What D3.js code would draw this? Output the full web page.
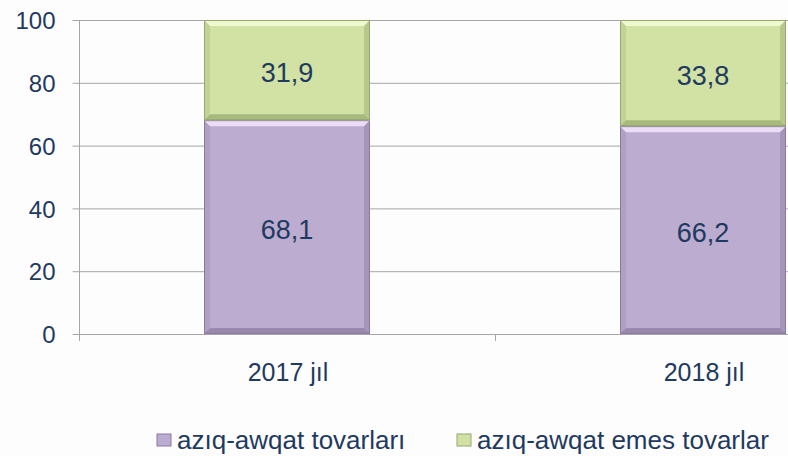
<!DOCTYPE html>
<html>
<head>
<meta charset="utf-8">
<script src="https://cdn.jsdelivr.net/npm/d3@7"></script>
<style>
  body { margin: 0; background: #fdfdfd; }
  svg { display: block; font-family: "Liberation Sans", Arial, sans-serif; }
</style>
</head>
<body>
<div id="chart"></div>
<script>
const categories = ["2017 jıl", "2018 jıl"];
const seriesNames = ["azıq-awqat tovarları", "azıq-awqat emes tovarlar"];
const food = [68.1, 66.2];
const nonFood = [31.9, 33.8];
const yTicks = [0, 20, 40, 60, 80, 100];

const colors = ["#bcacd0", "#d1e2a4"];
const edgeColors = ["#8a7aa0", "#97a86e"];
const lightColors = ["#ecdcf8", "#f0f8d0"];
const textColor = "#1f3a60";

const width = 788, height = 456;
const margin = { left: 79, top: 20, bottom: 122 };
const plotRight = 911; // plot area runs past the visible edge

const svg = d3.select("#chart").append("svg")
  .attr("width", width)
  .attr("height", height);

const x = d3.scaleBand().domain(categories).range([margin.left, plotRight]).paddingInner(0).paddingOuter(0);
const y = d3.scaleLinear().domain([0, 100]).range([height - margin.bottom, margin.top]);

// gridlines
svg.append("g")
  .selectAll("line")
  .data(yTicks)
  .join("line")
  .attr("x1", margin.left)
  .attr("x2", plotRight)
  .attr("y1", d => y(d) + 0.5)
  .attr("y2", d => y(d) + 0.5)
  .attr("stroke", "#a6a6a6")
  .attr("stroke-width", 1);

// y axis
const yAxis = svg.append("g")
  .attr("transform", `translate(${margin.left + 0.5},0)`)
  .call(d3.axisLeft(y).tickValues(yTicks).tickSize(7).tickPadding(17));
yAxis.select(".domain").attr("stroke", "#a6a6a6").attr("d", `M0,${y(100)}V${y(0) + 7}`);
yAxis.selectAll(".tick line").attr("stroke", "#a6a6a6");
yAxis.selectAll(".tick text")
  .attr("fill", textColor)
  .style("font-size", "24px")
  .attr("dy", "0.36em");

// x axis tick marks between categories
svg.append("g")
  .selectAll("line")
  .data(categories.slice(1))
  .join("line")
  .attr("x1", d => x(d) + 0.5)
  .attr("x2", d => x(d) + 0.5)
  .attr("y1", y(0))
  .attr("y2", y(0) + 7)
  .attr("stroke", "#a6a6a6");

// category labels
svg.append("g")
  .selectAll("text")
  .data(categories)
  .join("text")
  .attr("x", d => x(d) + x.bandwidth() / 2 + 1)
  .attr("y", 381)
  .attr("text-anchor", "middle")
  .attr("fill", textColor)
  .style("font-size", "25px")
  .text(d => d);

// stacked bars
const barW = 166;
const bevel = 6;
const stacks = categories.map((c, i) => {
  const vals = [food[i], nonFood[i]];
  let base = 0;
  return vals.map((v, s) => {
    const seg = { cat: c, series: s, value: v, y0: base, y1: base + v };
    base += v;
    return seg;
  });
}).flat();

const bars = svg.append("g")
  .selectAll("g")
  .data(stacks)
  .join("g")
  .attr("transform", d => `translate(${x(d.cat) + x.bandwidth() / 2 - barW / 2},${y(d.y1)})`);

bars.append("rect")
  .attr("width", barW)
  .attr("height", d => y(d.y0) - y(d.y1))
  .attr("fill", d => colors[d.series]);

// bevel: top highlight
bars.append("path")
  .attr("d", d => `M0,0H${barW}L${barW - bevel},${bevel}H${bevel}Z`)
  .attr("fill", d => lightColors[d.series]);
// bevel: right shade
bars.append("path")
  .attr("d", d => { const h = y(d.y0) - y(d.y1); return `M${barW},0L${barW - bevel},${bevel}V${h - bevel}L${barW},${h}Z`; })
  .attr("fill", d => edgeColors[d.series])
  .attr("opacity", 0.45);
// bevel: left shade
bars.append("path")
  .attr("d", d => { const h = y(d.y0) - y(d.y1); return `M0,0L${bevel},${bevel}V${h - bevel}L0,${h}Z`; })
  .attr("fill", d => edgeColors[d.series])
  .attr("opacity", 0.25);
// bevel: bottom shade
bars.append("path")
  .attr("d", d => { const h = y(d.y0) - y(d.y1); return `M0,${h}L${bevel},${h - bevel}H${barW - bevel}L${barW},${h}Z`; })
  .attr("fill", d => edgeColors[d.series])
  .attr("opacity", 0.7);
bars.append("rect")
  .attr("x", 0.5).attr("y", 0.5)
  .attr("width", barW - 1)
  .attr("height", d => y(d.y0) - y(d.y1) - 1)
  .attr("fill", "none")
  .attr("stroke", d => edgeColors[d.series])
  .attr("stroke-width", 1);

// value labels
bars.append("text")
  .attr("x", barW / 2)
  .attr("y", d => (y(d.y0) - y(d.y1)) / 2 + 2)
  .attr("dy", "0.36em")
  .attr("text-anchor", "middle")
  .attr("fill", textColor)
  .style("font-size", "27px")
  .text(d => d3.format(".1f")(d.value).replace(".", ","));

// legend
const legendX = [157, 457];
const legend = svg.append("g")
  .selectAll("g")
  .data(seriesNames)
  .join("g")
  .attr("transform", (d, i) => `translate(${legendX[i]},${449})`);

legend.append("rect")
  .attr("x", 0).attr("y", -15)
  .attr("width", 14).attr("height", 12)
  .attr("fill", (d, i) => colors[i])
  .attr("stroke", (d, i) => edgeColors[i]);

legend.append("text")
  .attr("x", 20)
  .attr("y", 0)
  .attr("fill", textColor)
  .style("font-size", "26px")
  .text(d => d);
</script>
</body>
</html>
